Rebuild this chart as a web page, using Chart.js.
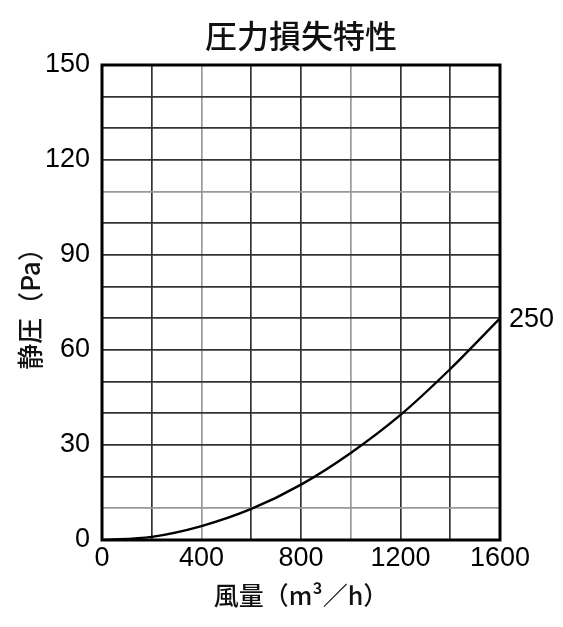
<!DOCTYPE html>
<html>
<head>
<meta charset="utf-8">
<script src="https://cdn.jsdelivr.net/npm/chart.js@4"></script>
<style>
  html, body { margin: 0; padding: 0; background: #fff; }
  #wrap { width: 563px; height: 627px; }
</style>
</head>
<body>
<div id="wrap"><canvas id="c" width="563" height="627"></canvas></div>
<script>
const airflow = [0, 200, 400, 600, 800, 1000, 1200, 1400, 1600];
const pressure = [0, 1.0, 4.4, 9.8, 17.5, 27.5, 39.5, 54, 70];
const curveLabel = '250';
const xLabelTicks = [0, 400, 800, 1200, 1600];
const yLabelTicks = [0, 30, 60, 90, 120, 150];

const NUM_FONT = '"Liberation Sans", Arial, sans-serif';
const JP_FONT = '"Noto Sans CJK JP", sans-serif';

// light grey lines in the scan
const lightX = [400, 1000];
const lightY = [10, 110];

const endLabel = {
  id: 'endLabel',
  afterDatasetsDraw(chart) {
    const meta = chart.getDatasetMeta(0);
    const pt = meta.data[meta.data.length - 1];
    const ctx = chart.ctx;
    ctx.save();
    ctx.font = '27px ' + NUM_FONT;
    ctx.fillStyle = '#000';
    ctx.textAlign = 'left';
    ctx.textBaseline = 'middle';
    ctx.fillText(curveLabel, pt.x + 9, pt.y + 1);
    ctx.restore();
  }
};

const frame = {
  id: 'frame',
  afterDraw(chart) {
    const a = chart.chartArea;
    const ctx = chart.ctx;
    ctx.save();
    ctx.strokeStyle = '#000';
    ctx.lineWidth = 3;
    ctx.strokeRect(a.left, a.top, a.right - a.left, a.bottom - a.top);
    ctx.restore();
  }
};

new Chart(document.getElementById('c'), {
  type: 'line',
  data: {
    datasets: [{
      data: airflow.map((x, i) => ({ x: x, y: pressure[i] })),
      borderColor: '#000',
      borderWidth: 2.4,
      pointRadius: 0,
      cubicInterpolationMode: 'monotone',
      fill: false
    }]
  },
  plugins: [endLabel, frame],
  options: {
    responsive: false,
    animation: false,
    devicePixelRatio: 1,
    layout: { padding: { left: 0, right: 63, top: 0, bottom: 0 } },
    plugins: {
      legend: { display: false },
      tooltip: { enabled: false },
      title: {
        display: true,
        text: '圧力損失特性',
        fullSize: false,
        color: '#111',
        font: { family: JP_FONT, size: 32, weight: '500', lineHeight: 1.2 },
        padding: { top: 17, bottom: 9.6 }
      }
    },
    scales: {
      x: {
        type: 'linear',
        min: 0, max: 1600,
        afterFit(s) { s.height = 87; },
        ticks: {
          stepSize: 200,
          autoSkip: false,
          maxRotation: 0,
          padding: 2,
          color: '#000',
          font: { family: NUM_FONT, size: 27 },
          callback: v => xLabelTicks.includes(v) ? String(v) : ''
        },
        grid: {
          drawTicks: false,
          color: c => lightX.includes(c.tick && c.tick.value) ? '#999' : '#333',
          lineWidth: 1.7
        },
        border: { display: false },
        title: {
          display: true,
          text: '風量（m³／h）',
          color: '#111',
          font: { family: JP_FONT, size: 25, weight: '500', lineHeight: 1.2 },
          padding: { top: 0, bottom: 17 }
        }
      },
      y: {
        type: 'linear',
        min: 0, max: 150,
        afterFit(s) { s.width = 102; },
        ticks: {
          stepSize: 10,
          autoSkip: false,
          padding: 12,
          color: '#000',
          font: { family: NUM_FONT, size: 27 },
          callback: v => yLabelTicks.includes(v) ? String(v) : ''
        },
        grid: {
          drawTicks: false,
          color: c => lightY.includes(c.tick && c.tick.value) ? '#999' : '#333',
          lineWidth: 1.7
        },
        border: { display: false },
        title: {
          display: true,
          text: '静圧（Pa）',
          color: '#111',
          font: { family: JP_FONT, size: 26, weight: '500', lineHeight: 1.2 },
          padding: { top: 15, bottom: 0 }
        }
      }
    }
  }
});
</script>
</body>
</html>
